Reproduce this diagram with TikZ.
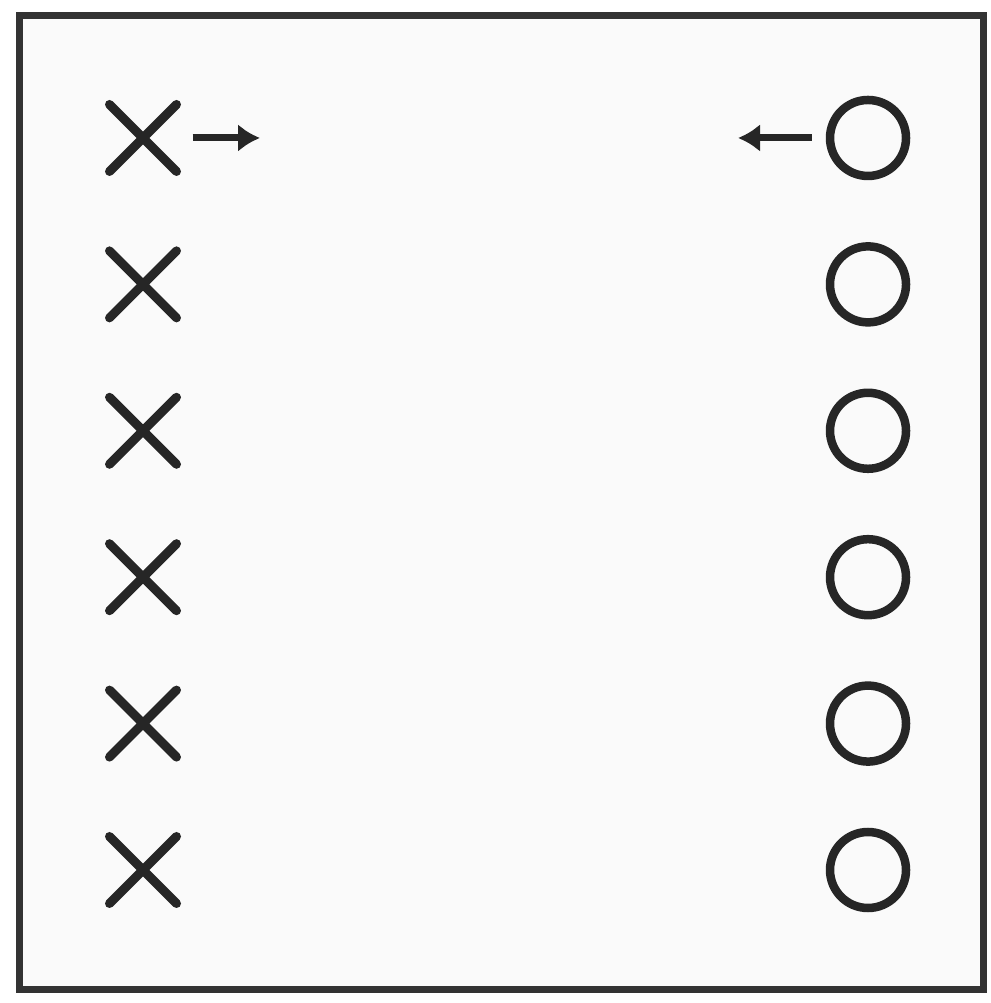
\documentclass[tikz,border=0pt]{standalone}
\usepackage{tikz}
\usetikzlibrary{positioning,arrows.meta,shapes.misc}

\begin{document}
\begin{tikzpicture}[xmark/.style={draw=black!85, cross out, line width=0.09cm, line cap=round, minimum size=0.58cm, inner sep=0pt}, omark/.style={draw=black!85, circle, line width=0.085cm, minimum size=0.76cm, inner sep=0pt}, arrow/.style={-{Latex[length=0.22cm,width=0.28cm]}, line width=0.07cm, draw=black!85}]
\useasboundingbox (0,0) rectangle (9.9,10.03);
\draw[line width=0.07cm, draw=black!80, fill=gray!4] (0.19,0.13) rectangle (9.83,9.87);
\foreach \i in {1,...,6}{
\node[xmark] (x\i) at (1.43,{8.65-(\i-1)*1.464}) {};
\node[omark] (o\i) at (8.68,{8.65-(\i-1)*1.464}) {};
}
\coordinate (r1) at (2.6,8.65);
\coordinate (l1) at (7.38,8.65);
\draw[arrow, shorten <=0.16cm] (x1) -- (r1);
\draw[arrow, shorten <=0.14cm] (o1) -- (l1);
\end{tikzpicture}
\end{document}
